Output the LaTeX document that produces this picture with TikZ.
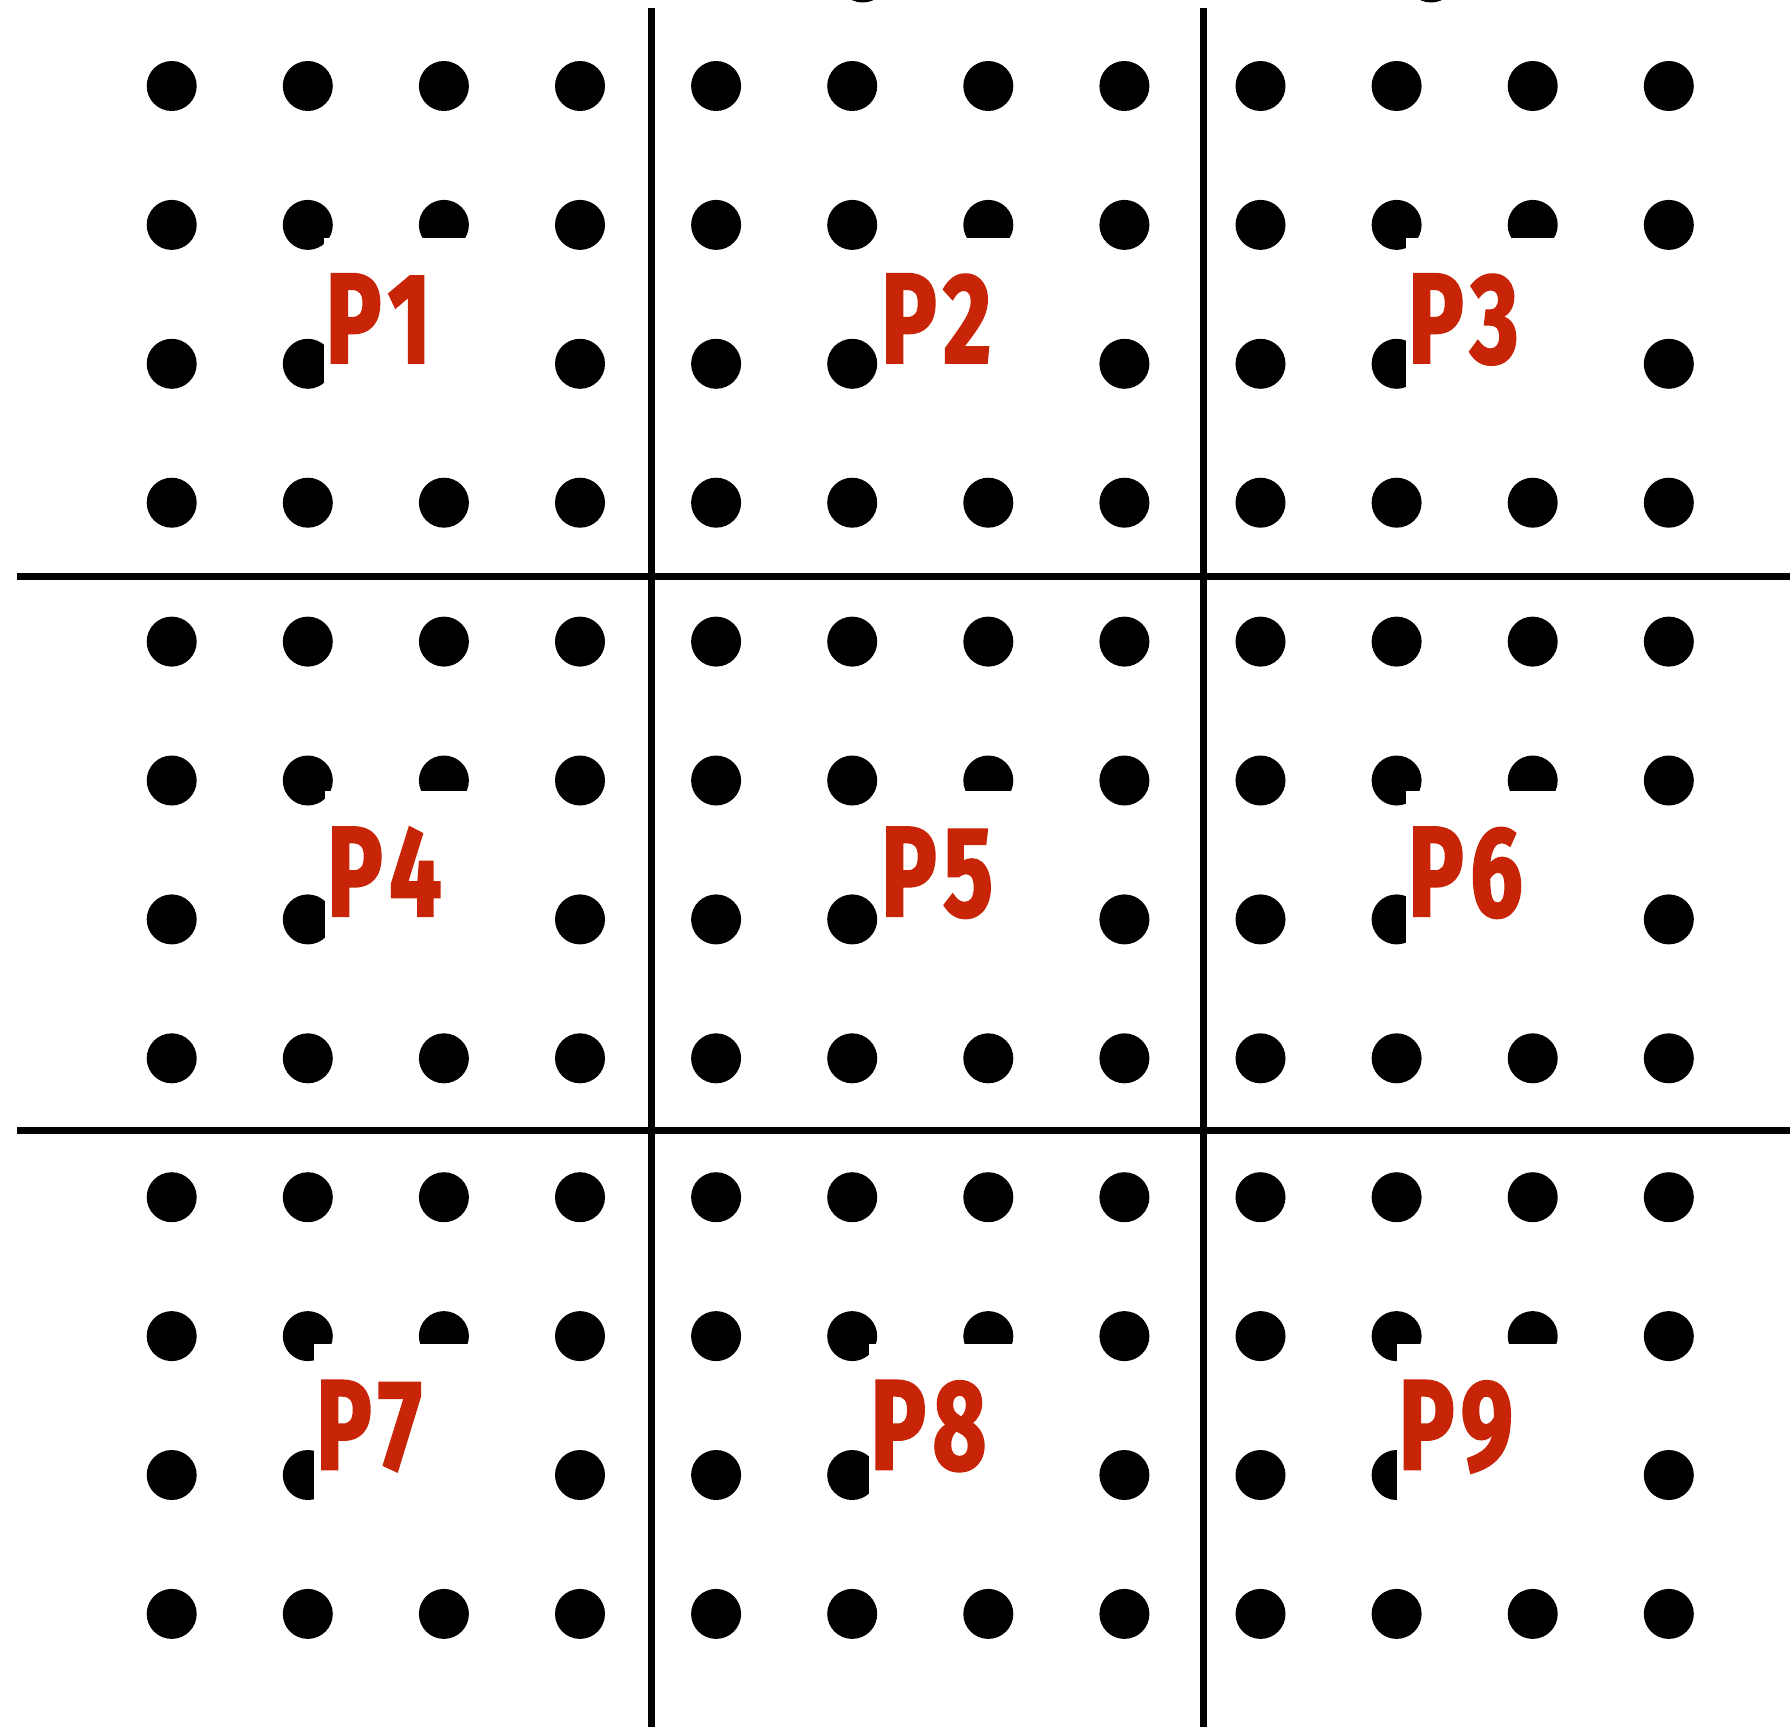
\documentclass[tikz,border=0pt]{standalone}
\usepackage{fontspec}
\newfontfamily\lblfont[FakeStretch=0.72,FakeBold=1.8]{Fira Sans}
\definecolor{labelred}{RGB}{200,36,8}
\newcommand{\plab}[1]{P\kern7pt#1}
\tikzset{
  dot/.style={circle, fill=black, draw=none, minimum size=50pt, inner sep=0pt},
  gridline/.style={line width=7pt, black},
  lbl/.style={fill=white, draw=none, text=labelred, anchor=base west,
    font=\lblfont\bfseries\fontsize{128}{128}\selectfont,
    text height=125pt, text depth=40pt, text width=196pt, align=left,
    inner xsep=2pt, inner ysep=0pt}
}
\begin{document}
\begin{tikzpicture}[x=1pt,y=-1pt]
\useasboundingbox (0,0) rectangle (1790,1727);
\clip (0,0) rectangle (1790,1727);
\fill[white] (0,0) rectangle (1790,1727);
% dots
\foreach \i in {0,...,11}{
  \foreach \j in {0,...,11}{
    \node[dot] (d-\i-\j) at ({171.7+136.1*\i},{86+138.9*\j}) {};
  }
}
% partial dots at the top edge
\node[dot] (t1) at (862.7,-22.5) {};
\node[dot] (t2) at (1431,-22.5) {};
% grid lines
\coordinate (v1a) at (651,8);    \coordinate (v1b) at (651,1727);
\coordinate (v2a) at (1203.2,8); \coordinate (v2b) at (1203.2,1727);
\coordinate (h1a) at (17,576);   \coordinate (h1b) at (1790,576);
\coordinate (h2a) at (17,1130.2);\coordinate (h2b) at (1790,1130.2);
\draw[gridline] (v1a) -- (v1b);
\draw[gridline] (v2a) -- (v2b);
\draw[gridline] (h1a) -- (h1b);
\draw[gridline] (h2a) -- (h2b);
% labels
\node[lbl] (p1) at (323.7,362.7) {\plab{1}};
\node[lbl] (p2) at (879,362.7) {\plab{2}};
\node[lbl] (p3) at (1406,362.7) {\plab{3}};
\node[lbl] (p4) at (325,916) {\plab{4}};
\node[lbl] (p5) at (879,916) {\plab{5}};
\node[lbl] (p6) at (1406,916) {\plab{6}};
\node[lbl] (p7) at (314,1469.3) {\plab{7}};
\node[lbl] (p8) at (868.3,1469.3) {\plab{8}};
\node[lbl] (p9) at (1396.7,1469.3) {\plab{9}};
\end{tikzpicture}
\end{document}
